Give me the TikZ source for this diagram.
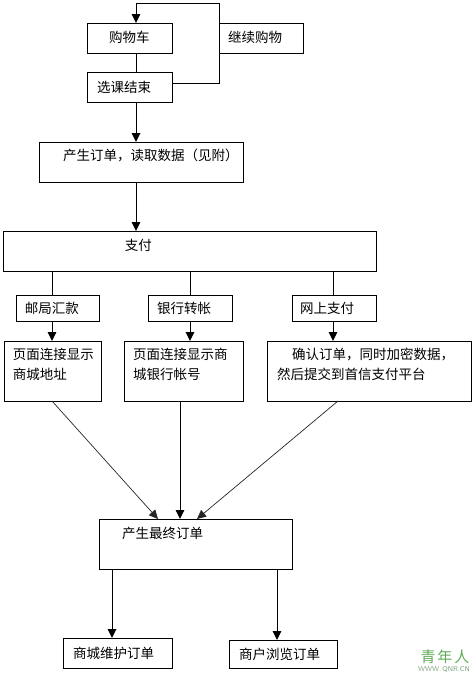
\documentclass[tikz,border=0pt]{standalone}
\usepackage{fontspec}
\setmainfont{Noto Sans CJK SC}
\usetikzlibrary{arrows.meta}
\definecolor{wmgreen}{RGB}{95,170,85}
\definecolor{wmgray}{RGB}{120,160,120}
\begin{document}
\begin{tikzpicture}[x=1pt,y=-1pt,
  box/.style={draw, rectangle, anchor=north west, inner xsep=0pt, inner ysep=0pt,
    outer sep=0pt, align=left, font=\fontsize{13.5}{20}\selectfont, line width=1pt},
  ln/.style={line width=1pt},
  arr/.style={line width=1pt, -{Triangle[width=8.5pt,length=9pt]}},
  diag/.style={line width=0.7pt, black!85, -{Triangle[width=8.5pt,length=9pt]}}]
\useasboundingbox (0,0) rectangle (475,675);

% boxes
\node[box, text width=85pt, text height=19pt, text depth=11pt] (cart) at (87,23) {\hspace*{22pt}购物车};
\node[box, text width=84pt, text height=19pt, text depth=11pt] (cont) at (219,23) {\hspace*{9pt}继续购物};
\node[box, text width=85pt, text height=20pt, text depth=10pt] (end) at (87,72) {\hspace*{10pt}选课结束};
\node[box, text width=204pt, text height=18pt, text depth=22pt] (order) at (39,142) {\hspace*{24pt}产生订单，读取数据（见附）};
\node[box, text width=373pt, text height=19pt, text depth=21pt] (pay) at (3,231) {\hspace*{122pt}支付};
\node[box, text width=83pt, text height=18pt, text depth=8pt] (post) at (16,295) {\hspace*{9pt}邮局汇款};
\node[box, text width=84pt, text height=18pt, text depth=8pt] (bank) at (148,295) {\hspace*{9pt}银行转帐};
\node[box, text width=84pt, text height=18pt, text depth=8pt] (online) at (292,295) {\hspace*{8pt}网上支付};
\node[box, text width=97pt, text height=18pt, text depth=42pt] (addr) at (4,341)
  {\hspace*{9pt}页面连接显示\\\hspace*{9pt}商城地址};
\node[box, text width=119pt, text height=18pt, text depth=42pt] (acct) at (124,341)
  {\hspace*{9pt}页面连接显示商\\\hspace*{9pt}城银行帐号};
\node[box, text width=204pt, text height=18pt, text depth=42pt] (confirm) at (267,341)
  {\hspace*{25pt}确认订单，同时加密数据，\\\hspace*{10pt}然后提交到首信支付平台};
\node[box, text width=193pt, text height=19pt, text depth=31pt] (final) at (99,519) {\hspace*{23pt}产生最终订单};
\node[box, text width=109pt, text height=20pt, text depth=10pt] (maint) at (63,638) {\hspace*{10pt}商城维护订单};
\node[box, text width=108pt, text height=19pt, text depth=9pt] (browse) at (229,640) {\hspace*{10pt}商户浏览订单};

% column coordinates
\coordinate (cx) at (136,0);
\coordinate (lp) at (219,3);
\coordinate (ca) at (52,0);
\coordinate (cb) at (190,0);
\coordinate (cc) at (333,0);
\coordinate (d1) at (158,0);
\coordinate (d2) at (180,0);
\coordinate (d3) at (338,0);
\coordinate (d4) at (197,0);
\coordinate (e1) at (112,0);
\coordinate (e2) at (277,0);

% connectors
\draw[ln] (cart.south -| cx) -- (end.north -| cx);
\draw[arr] ([yshift=4pt]end.east) -| (lp) -| (cart.north -| cx);
\draw[arr] (end.south -| cx) -- (order.north -| cx);
\draw[arr] (order.south -| cx) -- (pay.north -| cx);
\draw[ln] (pay.south -| ca) -- (post.north -| ca);
\draw[ln] (pay.south -| cb) -- (bank.north -| cb);
\draw[ln] (pay.south -| cc) -- (online.north -| cc);
\draw[arr] (post.south -| ca) -- (addr.north -| ca);
\draw[arr] (bank.south -| cb) -- (acct.north -| cb);
\draw[arr] (online.south -| cc) -- (confirm.north -| cc);
\draw[diag] (addr.south -| ca) -- (final.north -| d1);
\draw[arr] (acct.south -| d2) -- (final.north -| d2);
\draw[diag] (confirm.south -| d3) -- (final.north -| d4);
\draw[arr] (final.south -| e1) -- (maint.north -| e1);
\draw[arr] (final.south -| e2) -- (browse.north -| e2);

% watermark
\node[font=\fontsize{15}{15}\selectfont, text=wmgreen, inner sep=0pt] (wm1) at (445,657) {青\hspace{2pt}年\hspace{2pt}人};
\node[font=\fontsize{7}{7}\selectfont\sffamily, text=wmgray, inner sep=0pt] (wm2) at (444,669) {WWW.\,QNR.CN};
\end{tikzpicture}
\end{document}
